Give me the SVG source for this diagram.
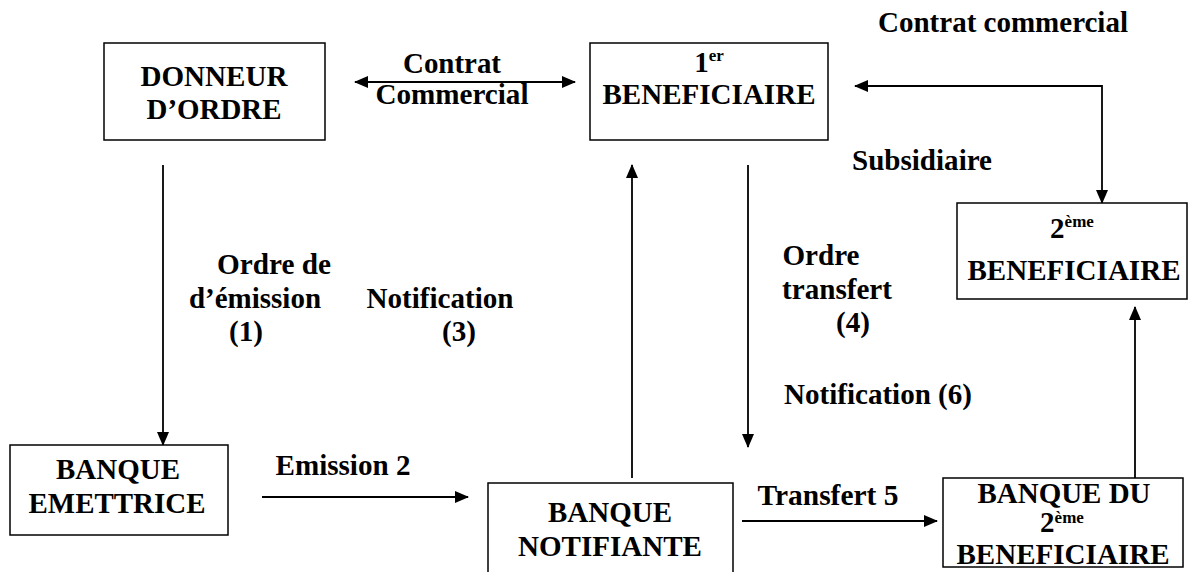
<svg xmlns="http://www.w3.org/2000/svg" width="1188" height="572" viewBox="0 0 1188 572" font-family="Liberation Serif, Tinos, DejaVu Serif, Times New Roman, serif">
  <style>
    .box { fill: #ffffff; stroke: #000000; stroke-width: 1.5; }
    .t { font-weight: 700; font-size: 29px; fill: #000000; text-anchor: middle; }
    .sup { font-size: 17px; }
    .c { fill: none; stroke: #000000; stroke-width: 1.8; }
  </style>
  <defs>
    <marker id="ah" markerUnits="userSpaceOnUse" markerWidth="14" markerHeight="12" refX="13" refY="6" orient="auto-start-reverse">
      <path d="M0,0 L14,6 L0,12 Z" fill="#000000"/>
    </marker>
  </defs>
  <rect width="1188" height="572" fill="#ffffff"/>

  <g id="connectors">
    <line class="c" x1="355" y1="82" x2="575" y2="82" marker-start="url(#ah)" marker-end="url(#ah)"/>
    <polyline class="c" points="855,86 1102,86 1102,203" marker-start="url(#ah)" marker-end="url(#ah)"/>
    <line class="c" x1="163" y1="165" x2="163" y2="445" marker-end="url(#ah)"/>
    <line class="c" x1="262" y1="497" x2="468" y2="497" marker-end="url(#ah)"/>
    <line class="c" x1="632" y1="478" x2="632" y2="165" marker-end="url(#ah)"/>
    <line class="c" x1="748" y1="165" x2="748" y2="447" marker-end="url(#ah)"/>
    <line class="c" x1="742" y1="521" x2="937" y2="521" marker-end="url(#ah)"/>
    <line class="c" x1="1135" y1="492" x2="1135" y2="307" marker-end="url(#ah)"/>
  </g>

  <g id="donneur">
    <rect class="box" x="104" y="43" width="221" height="97"/>
    <text class="t" x="214" y="86" textLength="147" lengthAdjust="spacingAndGlyphs">DONNEUR</text>
    <text class="t" x="214" y="119" textLength="135" lengthAdjust="spacingAndGlyphs">D’ORDRE</text>
  </g>

  <g id="beneficiaire1">
    <rect class="box" x="590" y="43" width="238" height="97"/>
    <text class="t" x="709" y="72">1<tspan class="sup" dy="-11">er</tspan></text>
    <text class="t" x="709" y="104" textLength="213" lengthAdjust="spacingAndGlyphs">BENEFICIAIRE</text>
  </g>

  <g id="beneficiaire2">
    <rect class="box" x="957" y="203" width="230" height="96"/>
    <text class="t" x="1072" y="238">2<tspan class="sup" dy="-11">ème</tspan></text>
    <text class="t" x="1074" y="280" textLength="213" lengthAdjust="spacingAndGlyphs">BENEFICIAIRE</text>
  </g>

  <g id="emettrice">
    <rect class="box" x="10" y="445" width="218" height="90"/>
    <text class="t" x="118" y="479" textLength="124" lengthAdjust="spacingAndGlyphs">BANQUE</text>
    <text class="t" x="117" y="513" textLength="177" lengthAdjust="spacingAndGlyphs">EMETTRICE</text>
  </g>

  <g id="notifiante">
    <rect class="box" x="488" y="483" width="245" height="100"/>
    <text class="t" x="610" y="522" textLength="124" lengthAdjust="spacingAndGlyphs">BANQUE</text>
    <text class="t" x="610" y="556" textLength="184" lengthAdjust="spacingAndGlyphs">NOTIFIANTE</text>
  </g>

  <g id="banque2">
    <rect class="box" x="943" y="478" width="240" height="89"/>
    <text class="t" x="1064" y="503" textLength="173" lengthAdjust="spacingAndGlyphs">BANQUE DU</text>
    <text class="t" x="1062" y="532">2<tspan class="sup" dy="-9">ème</tspan></text>
    <text class="t" x="1063" y="564" textLength="213" lengthAdjust="spacingAndGlyphs">BENEFICIAIRE</text>
  </g>

  <g id="labels">
    <text class="t" x="452" y="73" textLength="98" lengthAdjust="spacingAndGlyphs">Contrat</text>
    <text class="t" x="452" y="104" textLength="153" lengthAdjust="spacingAndGlyphs">Commercial</text>
    <text class="t" x="1003" y="32" textLength="250" lengthAdjust="spacingAndGlyphs">Contrat commercial</text>
    <text class="t" x="922" y="170" textLength="140" lengthAdjust="spacingAndGlyphs">Subsidiaire</text>
    <text class="t" x="274" y="274" textLength="114" lengthAdjust="spacingAndGlyphs">Ordre de</text>
    <text class="t" x="255" y="308" textLength="132" lengthAdjust="spacingAndGlyphs">d’émission</text>
    <text class="t" x="246" y="341" textLength="34" lengthAdjust="spacingAndGlyphs">(1)</text>
    <text class="t" x="440" y="308" textLength="147" lengthAdjust="spacingAndGlyphs">Notification</text>
    <text class="t" x="459" y="341" textLength="34" lengthAdjust="spacingAndGlyphs">(3)</text>
    <text class="t" x="821" y="265" textLength="77" lengthAdjust="spacingAndGlyphs">Ordre</text>
    <text class="t" x="837" y="299" textLength="110" lengthAdjust="spacingAndGlyphs">transfert</text>
    <text class="t" x="853" y="332" textLength="34" lengthAdjust="spacingAndGlyphs">(4)</text>
    <text class="t" x="878" y="404" textLength="188" lengthAdjust="spacingAndGlyphs">Notification (6)</text>
    <text class="t" x="343" y="475" textLength="135" lengthAdjust="spacingAndGlyphs">Emission 2</text>
    <text class="t" x="828" y="505" textLength="141" lengthAdjust="spacingAndGlyphs">Transfert 5</text>
  </g>
</svg>
